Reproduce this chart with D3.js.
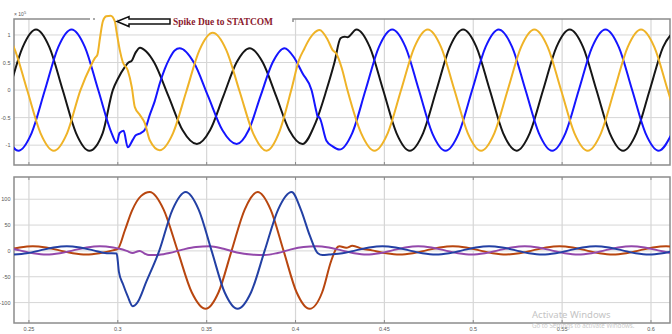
<!DOCTYPE html>
<html>
<head>
<meta charset="utf-8">
<script src="https://cdn.jsdelivr.net/npm/d3@7"></script>
<style>
  body { margin: 0; background: #fff; }
  svg { display: block; }
</style>
</head>
<body>
<svg id="chart" width="672" height="334"></svg>
<script>
// tick labels
var xTicks = [0.25, 0.3, 0.35, 0.4, 0.45, 0.5, 0.55, 0.6];
var xTickLabels = ["0.25", "0.3", "0.35", "0.4", "0.45", "0.5", "0.55", "0.6"];
var topTicks = [1, 0.5, 0, -0.5, -1];
var botTicks = [100, 50, 0, -50, -100];

// top panel: three phase voltage (x 10^5), [time, value]
var blackTop = [[0.2390,0],[0.2465,0.78],[0.2540,1.10],[0.2615,0.78],[0.2690,0],[0.2765,-0.78],[0.2840,-1.10],[0.2915,-0.78],
  [0.2972,0],[0.3000,0.20],[0.3040,0.42],[0.3060,0.50],[0.3078,0.53],[0.3100,0.68],[0.3125,0.77],[0.3160,0.70],[0.3205,0.50],
  [0.3285,-0.11],[0.3365,-0.73],[0.3445,-0.98],[0.3519,-0.73],[0.3594,-0.11],[0.3668,0.50],[0.3742,0.76],[0.3816,0.50],
  [0.3891,-0.11],[0.3965,-0.73],[0.4039,-0.98],[0.4112,-0.60],[0.4174,0],[0.4219,0.50],[0.4253,0.94],[0.4275,0.97],[0.4292,0.96],
  [0.4343,1.10],[0.4418,0.78],[0.4493,0],[0.4568,-0.78],[0.4643,-1.10],[0.4718,-0.78],[0.4793,0],[0.4868,0.78],[0.4943,1.10],
  [0.5018,0.78],[0.5093,0],[0.5168,-0.78],[0.5243,-1.10],[0.5318,-0.78],[0.5393,0],[0.5468,0.78],[0.5543,1.10],[0.5618,0.78],
  [0.5693,0],[0.5768,-0.78],[0.5843,-1.10],[0.5918,-0.78],[0.5993,0],[0.6068,0.78],[0.6143,1.10]];

var blueTop = [[0.2365,-0.78],[0.2440,-1.10],[0.2515,-0.78],[0.2590,0],[0.2665,0.78],[0.2740,1.10],[0.2815,0.78],[0.2890,0],
  [0.2965,-0.78],[0.2994,-0.96],[0.3010,-0.78],[0.3033,-0.74],[0.3056,-1.04],[0.3085,-0.90],[0.3101,-0.82],[0.3130,-0.78],
  [0.3152,-0.72],[0.3180,-0.45],[0.3208,-0.20],[0.3236,0.12],[0.3264,0.38],[0.3292,0.58],[0.3320,0.72],[0.3348,0.76],
  [0.3428,0.50],[0.3508,-0.11],[0.3589,-0.73],[0.3669,-0.98],[0.3736,-0.73],[0.3803,-0.11],[0.3871,0.50],[0.3938,0.76],
  [0.3990,0.60],[0.4040,0.30],[0.4090,0],[0.4118,-0.40],[0.4124,-0.48],[0.4135,-0.50],[0.4174,-0.92],[0.4208,-1.02],
  [0.4247,-1.08],[0.4319,-0.78],[0.4394,0],[0.4469,0.78],[0.4544,1.10],[0.4619,0.78],[0.4694,0],[0.4769,-0.78],[0.4844,-1.10],
  [0.4919,-0.78],[0.4994,0],[0.5069,0.78],[0.5144,1.10],[0.5219,0.78],[0.5294,0],[0.5369,-0.78],[0.5444,-1.10],[0.5519,-0.78],
  [0.5594,0],[0.5669,0.78],[0.5744,1.10],[0.5819,0.78],[0.5894,0],[0.5969,-0.78],[0.6044,-1.10],[0.6119,-0.78]];

var yellowTop = [[0.2340,1.10],[0.2415,0.78],[0.2490,0],[0.2565,-0.78],[0.2640,-1.10],[0.2715,-0.78],[0.2790,0],
  [0.2850,0.45],[0.2871,0.58],[0.2885,0.64],[0.2900,0.95],[0.2916,1.25],[0.2935,1.34],[0.2960,1.35],[0.2983,1.25],
  [0.2994,1.04],[0.3011,0.73],[0.3028,0.51],[0.3056,0.36],[0.3079,0.05],[0.3096,-0.31],[0.3124,-0.45],[0.3152,-0.60],
  [0.3180,-0.91],[0.3236,-1.09],[0.3311,-0.78],[0.3385,-0.03],[0.3460,0.73],[0.3534,1.04],[0.3610,0.73],[0.3686,-0.03],
  [0.3761,-0.78],[0.3837,-1.10],[0.3910,-0.75],[0.3976,0],[0.4020,0.55],[0.4051,0.76],[0.4060,0.82],[0.4100,1.02],
  [0.4135,1.09],[0.4180,0.92],[0.4208,0.73],[0.4230,0.66],[0.4260,0.40],[0.4292,0],[0.4369,-0.78],[0.4444,-1.10],
  [0.4519,-0.78],[0.4594,0],[0.4669,0.78],[0.4744,1.10],[0.4819,0.78],[0.4894,0],[0.4969,-0.78],[0.5044,-1.10],[0.5119,-0.78],
  [0.5194,0],[0.5269,0.78],[0.5344,1.10],[0.5419,0.78],[0.5494,0],[0.5569,-0.78],[0.5644,-1.10],[0.5719,-0.78],[0.5794,0],
  [0.5869,0.78],[0.5944,1.10],[0.6019,0.78],[0.6094,0],[0.6169,-0.78]];

// bottom panel: three phase current, [time, value]
var orangeBot = [[0.2372,1],[0.2447,6.5],[0.2522,9],[0.2597,6.5],[0.2672,1],[0.2747,-4.5],[0.2822,-7],[0.2897,-4.5],[0.2972,1],
  [0.3000,4],[0.3040,40],[0.3080,78],[0.3130,106],[0.3180,114],[0.3258,80],[0.3337,0],[0.3416,-80],[0.3494,-112],[0.3567,-80],
  [0.3640,0],[0.3714,80],[0.3787,114],[0.3860,80],[0.3933,0],[0.4006,-80],[0.4079,-112],[0.4150,-80],[0.4200,-20],[0.4230,5],
  [0.4247,9],[0.4285,6],[0.4320,10],[0.4376,4],[0.4431,1],[0.4510,-4.5],[0.4585,-7],[0.4660,-4.5],[0.4735,1],[0.4810,6.5],
  [0.4885,9],[0.4960,6.5],[0.5035,1],[0.5110,-4.5],[0.5185,-7],[0.5260,-4.5],[0.5335,1],[0.5410,6.5],[0.5485,9],[0.5560,6.5],
  [0.5635,1],[0.5710,-4.5],[0.5785,-7],[0.5860,-4.5],[0.5935,1],[0.6010,6.5],[0.6085,9],[0.6160,6.5]];

var blueBot = [[0.2413,-7],[0.2488,-4.5],[0.2563,1],[0.2638,6.5],[0.2713,9],[0.2788,6.5],[0.2863,1],[0.2938,-4.5],[0.2994,-5],
  [0.3000,-20],[0.3006,-40],[0.3030,-65],[0.3056,-88],[0.3084,-107],[0.3110,-100],[0.3160,-60],[0.3233,0],[0.3308,80],
  [0.3382,114],[0.3455,80],[0.3528,0],[0.3601,-80],[0.3674,-112],[0.3750,-80],[0.3826,0],[0.3902,80],[0.3978,114],
  [0.4030,80],[0.4080,30],[0.4124,-4],[0.4152,-8],[0.4189,-7],[0.4264,-4.5],[0.4339,1],[0.4414,6.5],[0.4489,9],[0.4564,6.5],
  [0.4639,1],[0.4714,-4.5],[0.4789,-7],[0.4864,-4.5],[0.4939,1],[0.5014,6.5],[0.5089,9],[0.5164,6.5],[0.5239,1],[0.5314,-4.5],
  [0.5389,-7],[0.5464,-4.5],[0.5539,1],[0.5614,6.5],[0.5689,9],[0.5764,6.5],[0.5839,1],[0.5914,-4.5],[0.5989,-7],
  [0.6064,-4.5],[0.6139,1]];

var purpleBot = [[0.2374,6.5],[0.2449,1],[0.2524,-4.5],[0.2599,-7],[0.2674,-4.5],[0.2749,1],[0.2824,6.5],[0.2899,9],
  [0.2974,6.5],[0.3010,4],[0.3050,0],[0.3084,-4],[0.3110,-1],[0.3124,0],[0.3150,-5],[0.3175,-8],[0.3220,-8],[0.3290,-4],
  [0.3370,3],[0.3440,7.5],[0.3517,9],[0.3595,4],[0.3670,-3],[0.3750,-7],[0.3826,-8],[0.3900,-4],[0.3975,3],[0.4045,7.5],
  [0.4118,9],[0.4188,6.5],[0.4259,1],[0.4330,-4.5],[0.4400,-7],[0.4472,-4.5],[0.4545,1],[0.4617,6.5],[0.4690,9],[0.4765,6.5],
  [0.4840,1],[0.4915,-4.5],[0.4990,-7],[0.5065,-4.5],[0.5140,1],[0.5215,6.5],[0.5290,9],[0.5365,6.5],[0.5440,1],[0.5515,-4.5],
  [0.5590,-7],[0.5665,-4.5],[0.5740,1],[0.5815,6.5],[0.5890,9],[0.5965,6.5],[0.6040,1],[0.6115,-4.5]];

var svg = d3.select("#chart");
var left = 14, right = 670;

var x = d3.scaleLinear().domain([0.2416, 0.6107]).range([left, right]);
var yTop = d3.scaleLinear().domain([-1.36, 1.29]).range([165, 19]);
var yBot = d3.scaleLinear().domain([-139.5, 143]).range([323, 177]);

var gridColor = "#d6d6d6";
var frameColor = "#8c8c8c";
var labelFont = "Liberation Sans, Arial, sans-serif";

var drawPanel = function(y, ticks, top, bottom) {
  var g = svg.append("g");
  g.selectAll(".hg").data(ticks).enter().append("line")
    .attr("x1", left).attr("x2", right)
    .attr("y1", function(d){ return y(d); }).attr("y2", function(d){ return y(d); })
    .attr("stroke", gridColor).attr("stroke-width", 1);
  g.selectAll(".vg").data(xTicks).enter().append("line")
    .attr("x1", function(d){ return x(d); }).attr("x2", function(d){ return x(d); })
    .attr("y1", top).attr("y2", bottom)
    .attr("stroke", gridColor).attr("stroke-width", 1.2);
  // y labels
  g.selectAll(".yl").data(ticks).enter().append("text")
    .attr("x", 10.5).attr("y", function(d){ return y(d) + 2; })
    .attr("text-anchor", "end")
    .attr("font-family", labelFont).attr("font-size", 5.5).attr("fill", "#555")
    .text(function(d){ return d; });
  return g;
};

drawPanel(yTop, topTicks, 19, 165);
drawPanel(yBot, botTicks, 177, 323);

// frames
var frame = svg.append("g").attr("stroke", frameColor).attr("stroke-width", 1.5).attr("fill", "none");
frame.append("path").attr("d", "M90,19 L" + left + ",19 L" + left + ",165 L" + right + ",165 L" + right + ",19 L293,19 L293,22");
frame.append("line").attr("x1", 93).attr("x2", 95).attr("y1", 19).attr("y2", 19);
frame.append("rect").attr("x", left).attr("y", 177).attr("width", right - left).attr("height", 146);

// small ticks on frames
var tk = svg.append("g").attr("stroke", frameColor).attr("stroke-width", 1);
xTicks.forEach(function(d) {
  tk.append("line").attr("x1", x(d)).attr("x2", x(d)).attr("y1", 165).attr("y2", 162);
  tk.append("line").attr("x1", x(d)).attr("x2", x(d)).attr("y1", 323).attr("y2", 320);
  tk.append("line").attr("x1", x(d)).attr("x2", x(d)).attr("y1", 177).attr("y2", 180);
});

// x labels
svg.selectAll(".xl").data(xTicks).enter().append("text")
  .attr("x", function(d){ return x(d); }).attr("y", 331)
  .attr("text-anchor", "middle")
  .attr("font-family", labelFont).attr("font-size", 5.5).attr("fill", "#555")
  .text(function(d, i){ return xTickLabels[i]; });

// x10^5 exponent label
var expo = svg.append("text").attr("x", 14).attr("y", 16)
  .attr("font-family", labelFont).attr("font-size", 5).attr("fill", "#555");
expo.append("tspan").text("\u00d7 10");
expo.append("tspan").attr("dy", -2).attr("font-size", 4).text("5");

var line = function(y) {
  return d3.line()
    .x(function(d){ return x(d[0]); })
    .y(function(d){ return y(d[1]); })
    .curve(d3.curveMonotoneX);
};

var clipTop = svg.append("clipPath").attr("id", "clipTop");
clipTop.append("rect").attr("x", left).attr("y", 0).attr("width", right - left).attr("height", 170);
var clipBot = svg.append("clipPath").attr("id", "clipBot");
clipBot.append("rect").attr("x", left).attr("y", 177).attr("width", right - left).attr("height", 146);

var topSeries = [
  {data: blackTop, color: "#161616"},
  {data: blueTop, color: "#1515ff"},
  {data: yellowTop, color: "#efb327"}
];
var botSeries = [
  {data: orangeBot, color: "#b8460f"},
  {data: purpleBot, color: "#9348ab"},
  {data: blueBot, color: "#2340a4"}
];

svg.append("g").attr("clip-path", "url(#clipTop)")
  .selectAll("path").data(topSeries).enter().append("path")
  .attr("d", function(s){ return line(yTop)(s.data); })
  .attr("fill", "none").attr("stroke", function(s){ return s.color; })
  .attr("stroke-width", 2).attr("stroke-linejoin", "round");

svg.append("g").attr("clip-path", "url(#clipBot)")
  .selectAll("path").data(botSeries).enter().append("path")
  .attr("d", function(s){ return line(yBot)(s.data); })
  .attr("fill", "none").attr("stroke", function(s){ return s.color; })
  .attr("stroke-width", 2).attr("stroke-linejoin", "round");

// annotation arrow + text
svg.append("path")
  .attr("d", "M117,21.5 L129,16.5 L129,19 L170,19 L170,24 L129,24 L129,26.5 Z")
  .attr("fill", "#fff").attr("stroke", "#111").attr("stroke-width", 1.5).attr("stroke-linejoin", "miter");
svg.append("text").attr("x", 173).attr("y", 24.5)
  .attr("font-family", "Liberation Serif, serif").attr("font-weight", "bold").attr("font-size", 10)
  .attr("fill", "#8b1a2e")
  .attr("textLength", 100).attr("lengthAdjust", "spacingAndGlyphs")
  .text("Spike Due to STATCOM");

// watermark
svg.append("text").attr("x", 532).attr("y", 318)
  .attr("font-family", "Noto Sans, sans-serif").attr("font-size", 9.5).attr("fill", "#c4c4c4")
  .text("Activate Windows");
svg.append("text").attr("x", 532).attr("y", 328)
  .attr("font-family", "Noto Sans, sans-serif").attr("font-size", 6.2).attr("fill", "#cbcbcb")
  .text("Go to Settings to activate Windows.");
</script>
</body>
</html>
